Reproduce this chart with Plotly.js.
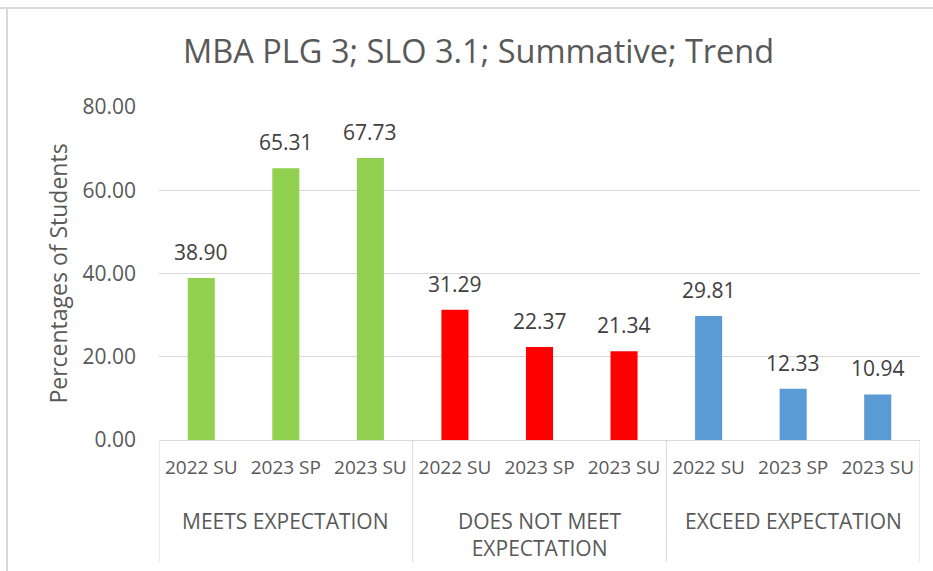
<!DOCTYPE html>
<html>
<head>
<meta charset="utf-8">
<script src="https://cdn.plot.ly/plotly-3.0.1.min.js"></script>
<style>html,body{margin:0;padding:0;background:#fff;}#chart{width:933px;height:571px;}</style>
</head>
<body>
<div id="chart"></div>
<script>
// ---- data ----
var groups = ["MEETS EXPECTATION", "DOES NOT MEET<br>EXPECTATION", "EXCEED EXPECTATION"];
var terms = ["2022 SU", "2023 SP", "2023 SU"];
var meets = [38.90, 65.31, 67.73];
var doesNotMeet = [31.29, 22.37, 21.34];
var exceed = [29.81, 12.33, 10.94];
var groupColors = ["#92D050", "#FF0000", "#5B9BD5"];
var yTicks = [0, 20, 40, 60, 80];
var titleText = "MBA PLG 3; SLO 3.1; Summative; Trend";
var yTitle = "Percentages of Students";

// ---- build ----
var seriesByGroup = [meets, doesNotMeet, exceed];
var n = terms.length;
var traces = [];
var tickVals = [], tickText = [];
var annotations = [];
var shapes = [];

groups.forEach(function (g, gi) {
  var xs = terms.map(function (t, ti) { return gi * n + ti; });
  traces.push({
    type: "bar",
    x: xs,
    y: seriesByGroup[gi],
    marker: { color: groupColors[gi] },
    width: 0.32,
    name: g.replace("<br>", " "),
    hoverinfo: "y"
  });
  xs.forEach(function (x, ti) {
    tickVals.push(x);
    tickText.push(terms[ti]);
    annotations.push({
      x: x, y: seriesByGroup[gi][ti],
      xref: "x", yref: "y",
      text: seriesByGroup[gi][ti].toFixed(2),
      showarrow: false, yanchor: "bottom", yshift: 10,
      font: { family: "Open Sans", size: 21, color: "#404040" }
    });
  });
  // group label
  annotations.push({
    x: gi * n + (n - 1) / 2, y: -0.195,
    xref: "x", yref: "paper",
    text: g, showarrow: false, yanchor: "top", xanchor: "center",
    font: { family: "Open Sans", size: 21, color: "#595959" }
  });
});

// group dividers
for (var k = 0; k <= groups.length; k++) {
  shapes.push({
    type: "line", xref: "x", yref: "paper",
    x0: k * n - 0.5, x1: k * n - 0.5, y0: 0, y1: -0.366,
    line: { color: "#d9d9d9", width: 1 }
  });
}
// chart-area border (top and left)
shapes.push({ type: "line", xref: "paper", yref: "paper", x0: -159/761, x1: 774/761, y0: 1 + 99/333, y1: 1 + 99/333,
  line: { color: "#d9d9d9", width: 2 } });
shapes.push({ type: "line", xref: "paper", yref: "paper", x0: -152/761, x1: -152/761, y0: 1 + 99/333, y1: -131/333,
  line: { color: "#d9d9d9", width: 2 } });

var layout = {
  width: 933,
  height: 571,
  margin: { l: 159, r: 13, t: 107, b: 131 },
  paper_bgcolor: "#ffffff",
  plot_bgcolor: "#ffffff",
  showlegend: false,
  barmode: "overlay",
  font: { family: "Open Sans", color: "#595959" },
  title: {
    text: titleText,
    font: { family: "Open Sans", size: 32.5, color: "#595959" },
    xref: "container", x: 0.513, xanchor: "center",
    yref: "container", y: 0.909, yanchor: "middle"
  },
  xaxis: {
    type: "linear",
    range: [-0.5, groups.length * n - 0.5],
    tickmode: "array",
    tickvals: tickVals,
    ticktext: tickText,
    showline: true,
    linecolor: "#d9d9d9",
    linewidth: 1,
    ticks: "",
    showgrid: false,
    zeroline: false,
    tickfont: { family: "Open Sans", size: 19, color: "#595959" },
    ticklabelstandoff: 10
  },
  yaxis: {
    range: [0, 80],
    tickvals: yTicks,
    tickformat: ".2f",
    showgrid: true,
    gridcolor: "#d9d9d9",
    gridwidth: 1,
    zeroline: false,
    showline: false,
    ticks: "",
    ticklabelstandoff: 22,
    tickfont: { family: "Open Sans", size: 21, color: "#595959" },
    title: { text: yTitle, font: { family: "Open Sans", size: 23, color: "#595959" }, standoff: 8 }
  },
  annotations: annotations,
  shapes: shapes
};

Plotly.newPlot("chart", traces, layout, { displayModeBar: false, staticPlot: true });
</script>
</body>
</html>
